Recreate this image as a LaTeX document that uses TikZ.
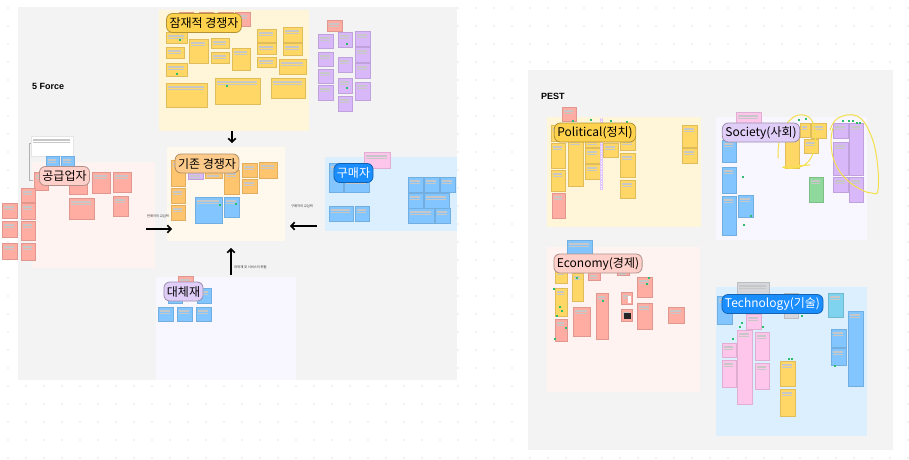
\documentclass[tikz,border=0pt]{standalone}
\usepackage{fontspec}
\setmainfont{Noto Sans CJK KR}
\newfontfamily\headfont{Liberation Sans}
\usetikzlibrary{arrows.meta,positioning}
% board colours
\definecolor{framegray}{HTML}{F3F3F3}
\definecolor{dotgray}{HTML}{C9C9C9}
\definecolor{secyellow}{HTML}{FFF6DA}
\definecolor{secorange}{HTML}{FFF8EC}
\definecolor{secpink}{HTML}{FFF3F1}
\definecolor{secblue}{HTML}{DCEFFE}
\definecolor{seclav}{HTML}{F8F6FF}
% sticky note colours
\definecolor{nyellow}{HTML}{FFD766}
\definecolor{norange}{HTML}{FFC56E}
\definecolor{npink}{HTML}{FFACA3}
\definecolor{npurple}{HTML}{D9B8FA}
\definecolor{nblue}{HTML}{83C6FF}
\definecolor{ngreen}{HTML}{8FD99C}
\definecolor{nmagenta}{HTML}{FFC6EC}
\definecolor{nteal}{HTML}{7FD3EE}
\definecolor{ngray}{HTML}{D5D7DC}
% title pill colours
\definecolor{pyellow}{HTML}{FFD24D}
\definecolor{porange}{HTML}{FCCB8C}
\definecolor{ppink}{HTML}{FFCFC9}
\definecolor{pblue}{HTML}{1A8DFF}
\definecolor{plav}{HTML}{E0CEF8}
\definecolor{loopyellow}{HTML}{F4E04D}
\definecolor{markgreen}{HTML}{2DBE6C}
\tikzset{
  stickynote/.style={fill=#1,draw=#1!88!black,line width=0.2pt,
    path picture={\foreach \k in {3,4.6,6.2}{\draw[black!22,line width=0.25pt]
      ([xshift=1.5pt,yshift=-\k*1pt]path picture bounding box.north west) --
      ([xshift=-3pt,yshift=-\k*1pt]path picture bounding box.north east);}}},
  pill/.style={draw=#1!70!black,fill=#1,rounded corners=6pt,line width=0.8pt,
    minimum height=19pt,inner xsep=3pt,inner ysep=1pt,font=\fontsize{12}{13}\selectfont},
  force/.style={line width=1.7pt,-{Straight Barb[length=3.5pt,width=7.5pt]}},
  arrowlabel/.style={font=\fontsize{3.3}{4}\selectfont,text=black!80,inner sep=0pt},
  framelabel/.style={font=\headfont\bfseries\fontsize{9}{10}\selectfont,anchor=west,inner sep=0pt},
}
\newcommand{\notegroup}[2]{\foreach \xa/\ya/\xb/\yb in {#2}{\draw[stickynote=#1] (\xa,\ya) rectangle (\xb,\yb);}}
\newcommand{\greenmarks}[1]{\foreach \mx/\my in {#1}{\fill[markgreen] (\mx-1,\my-1) rectangle (\mx+1,\my+1);}}

\begin{document}
\begin{tikzpicture}[x=1pt,y=-1pt]
\useasboundingbox (0,0) rectangle (909,459);
\fill[white] (0,0) rectangle (909,459);
% dot grid
\foreach \i in {0,...,50}{\foreach \j in {0,...,25}{\fill[dotgray] (\i*18+8,\j*18+8) circle (0.6);}}

% ---- 5 Force ----
\fill[framegray] (18,7) rectangle (457,380);
\node[framelabel] (force-title) at (32,86) {5 Force};

% potential entrants
\fill[secyellow] (159,10) rectangle (309,131);
\notegroup{npink}{179/12/193/17,199/12/213/17,218/12/233/17,235/12/250/26}
\notegroup{nyellow}{166/32/187/43,166/47/184/58,166/63/187/76,189/39/208/63,211/38/229/48,
  211/52/229/63,232/48/250/70,257/29/276/42,257/43/276/54,257/57/276/67,283/27/302/42,
  283/43/302/55,279/59/306/74,166/83/207/107,215/78/260/104,271/78/305/98}
\greenmarks{180/40,177/74,227/86}
\node[pill=pyellow] (potential) at (204,23) {잠재적 경쟁자};
\notegroup{npink}{327/20/342/31}
\notegroup{npurple}{318/34/333/48,338/32/352/47,355/31/370/46,318/52/333/66,355/47/370/62,
  338/57/352/72,318/69/333/83,355/63/370/78,338/78/352/93,318/85/333/100,355/82/370/100,338/96/352/111}
\greenmarks{347/44,347/88}

% suppliers
\fill[secpink] (32,162) rectangle (155,268);
\draw[black!30,line width=0.4pt] (33,143) -- (29.5,143) -- (29.5,180) -- (33,180);
\draw[stickynote=white,draw=black!10] (31,136) rectangle (73,156);
\notegroup{nblue}{46/156/59/167,61/156/74/167}
\notegroup{npink}{34/172/48/190,69/173/87/194,92/172/110/193,113/172/131/192,69/198/94/219,
  113/196/128/216,21/188/35/202,21/203/35/219,21/221/35/240,21/243/35/260,2/203/17/218,
  2/221/17/237,2/243/17/259}
\node[pill=ppink] (supplier) at (64.5,176) {공급업자};

% rivals
\fill[secorange] (167,147) rectangle (285,241);
\notegroup{norange}{171/160/185/186,171/188/185/203,171/205/185/220,205/172/222/178,
  224/170/239/194,242/163/257/177,242/179/257/193,259/162/277/178}
\notegroup{npurple}{188/172/203/179}
\notegroup{nblue}{195/197/222/223,224/197/239/217}
\greenmarks{220/205,236/204}
\node[pill=porange] (rivals) at (207,163.5) {기존 경쟁자};

% buyers
\fill[secblue] (325,157) rectangle (457,231);
\notegroup{nblue}{329/163/343/192,344/177/369/192,329/206/353/221,355/206/369/221,
  408/177/423/192,424/177/439/192,440/177/455/192,408/193/423/208,424/193/449/208,
  408/208/434/223,435/208/450/223}
\notegroup{nmagenta}{364/152/390/168}
\node[pill=pblue,text=white] (buyer) at (353.5,173) {구매자};

% substitutes
\fill[seclav] (156,277) rectangle (296,380);
\notegroup{npink}{178/276/193/283}
\notegroup{nblue}{168/288/182/303,197/288/211/303,158/307/173/321,177/307/192/321,196/307/211/321}
\node[pill=plav] (substitute) at (183.5,291.5) {대체재};

% forces
\coordinate (pot-out) at (232,131);
\coordinate (riv-n) at (232,143);
\coordinate (sup-out) at (146,229);
\coordinate (riv-w) at (172,229);
\coordinate (buy-out) at (317,226);
\coordinate (riv-e) at (290,226);
\coordinate (sub-out) at (231,275);
\coordinate (riv-s) at (231,248);
\draw[force] (pot-out) -- (riv-n);
\draw[force] (sup-out) -- (riv-w);
\draw[force] (buy-out) -- (riv-e);
\draw[force] (sub-out) -- (riv-s);
\node[arrowlabel] (sup-label) at (158,216) {판매자의 교섭력};
\node[arrowlabel] (buy-label) at (302,206) {구매자의 교섭력};
\node[arrowlabel,anchor=west] (sub-label) at (234,267) {대체재 및 서비스의 위협};

% ---- PEST ----
\fill[framegray] (528,70) rectangle (893,450);
\node[framelabel] (pest-title) at (541,96) {PEST};

% political
\fill[secyellow] (547,117) rectangle (701,227);
\notegroup{npink}{562/107/576/121,552/193/565/218}
\notegroup{nyellow}{551/125/565/141,551/143/565/168,551/170/565/191,568/138/583/186,
  585/138/600/147,585/148/600/163,585/164/600/179,603/143/618/157,620/138/635/150,
  620/153/635/177,620/180/635/198,682/125/697/147,682/148/697/163}
\fill[npurple!80] (600,118) rectangle (603,190);
\draw[white,line width=0.5pt,dash pattern=on 1pt off 1.5pt] (601.5,118) -- (601.5,190);
\greenmarks{573/121,591/120,611/121,627/122}
\node[pill=pyellow] (political) at (595,132.5) {Political(정치)};

% society
\fill[seclav] (716,117) rectangle (867,240);
\notegroup{nmagenta}{736/112/761/127}
\notegroup{nblue}{722/140/736/162,722/167/736/193,722/196/736/235,738/195/753/217}
\notegroup{nyellow}{785/132/799/168,800/123/810/137,811/123/826/138,804/139/818/153}
\notegroup{ngreen}{809/177/823/202}
\notegroup{npurple}{833/123/848/138,833/142/848/175,833/177/848/192,849/123/863/175,849/177/863/202}
\greenmarks{743/177,751/216,744/225,799/120,806/119,843/121,849/121,853/121,857/123,860/123}
\draw[loopyellow,line width=1pt,line cap=round] plot[smooth,tension=0.7] coordinates
  {(778,158) (780,138) (790,120) (803,115) (813,123) (815,145) (808,162) (795,168) (783,167) (810,165)};
\draw[loopyellow,line width=1pt,line cap=round] plot[smooth,tension=0.7] coordinates
  {(830,130) (838,118) (857,116) (870,133) (877,160) (878,190) (872,193) (862,190) (847,180) (835,163) (831,143) (833,128)};
\node[pill=plav] (society) at (761,132.5) {Society(사회)};

% economy
\fill[secpink] (547,247) rectangle (700,392);
\notegroup{nblue}{567/240/592/255}
\notegroup{nyellow}{555/268/567/283,555/288/567/316,572/273/583/301}
\notegroup{npink}{555/319/567/341,573/307/590/336,588/272/600/280,596/293/608/339,
  617/270/629/275,621/292/632/304,621/309/632/321,637/277/652/297,637/303/652/329,668/307/684/323}
\fill[white] (628,296) rectangle (631,303);
\fill[black!85] (624,313) rectangle (631,319);
\greenmarks{577/278,603/301,557/316,560/307,562/311,554/289,566/328,555/339,649/278,647/284}
\node[pill=ppink] (economy) at (598,263.5) {Economy(경제)};

% technology
\fill[secblue] (716,287) rectangle (867,436);
\notegroup{ngray}{737/282/769/295,784/293/798/318}
\notegroup{nblue}{717/296/732/324,831/329/846/347,831/348/846/365,848/311/863/386}
\notegroup{nteal}{828/293/843/317}
\notegroup{nmagenta}{746/314/761/329,737/330/752/404,722/343/736/357,722/360/736/387,
  755/332/769/360,755/363/769/389}
\notegroup{nyellow}{780/361/795/386,780/389/795/416}
\greenmarks{742/323,740/327,763/327,733/339,792/359,789/359,835/366,802/316}
\node[pill=pblue,text=white] (technology) at (772.5,304) {Technology(기술)};
\end{tikzpicture}
\end{document}
